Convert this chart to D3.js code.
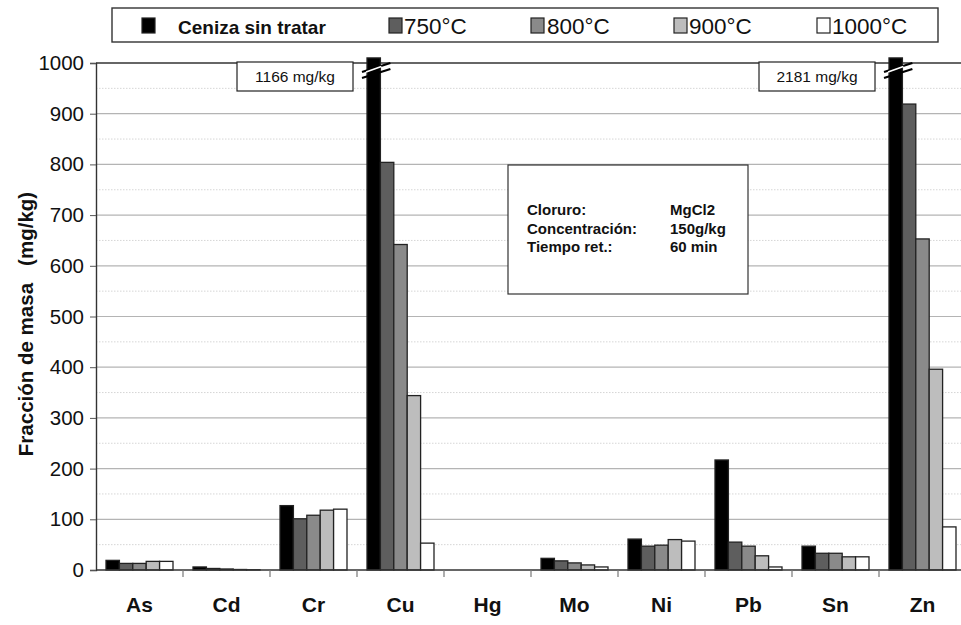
<!DOCTYPE html>
<html>
<head>
<meta charset="utf-8">
<script src="https://cdn.jsdelivr.net/npm/d3@7"></script>
<style>
  html, body { margin: 0; padding: 0; background: #fff; }
  svg { display: block; font-family: "Liberation Sans", Arial, sans-serif; }
</style>
</head>
<body>
<svg id="chart" width="961" height="625"></svg>
<script>
// Elements analysed
const elements = ["As", "Cd", "Cr", "Cu", "Hg", "Mo", "Ni", "Pb", "Sn", "Zn"];

// Series (mg/kg)
const seriesNames = ["Ceniza sin tratar", "750°C", "800°C", "900°C", "1000°C"];
const cenizaSinTratar = [19, 6, 127, 1166, 0, 23, 61, 217, 47, 2181];
const t750 = [13, 3, 101, 804, 0, 18, 47, 55, 33, 919];
const t800 = [13, 2, 108, 642, 0, 14, 49, 47, 33, 653];
const t900 = [17, 1, 118, 344, 0, 10, 60, 28, 26, 396];
const t1000 = [17, 0.5, 120, 53, 0, 6, 57, 6, 26, 85];
const seriesValues = [cenizaSinTratar, t750, t800, t900, t1000];
const seriesColors = ["#000000", "#5e5e5e", "#8a8a8a", "#bdbdbd", "#ffffff"];

// Y axis ticks
const yTicks = [0, 100, 200, 300, 400, 500, 600, 700, 800, 900, 1000];
const yMinor = [50, 150, 250, 350, 450, 550, 650, 750, 850, 950];

// Info box
const infoLabels = ["Cloruro:", "Concentración:", "Tiempo ret.:"];
const infoValues = ["MgCl2", "150g/kg", "60 min"];

const svg = d3.select("#chart");

const x = d3.scaleBand().domain(elements).range([96, 966]).paddingInner(0.23).paddingOuter(0.115);
const xs = d3.scaleBand().domain(d3.range(seriesNames.length)).range([0, x.bandwidth()]);
const y = d3.scaleLinear().domain([0, 1000]).range([570, 63]);
const yCap = 1010; // bars above the axis maximum are cut here

// Grid
svg.append("g").selectAll("line").data(yMinor).join("line")
  .attr("x1", 96).attr("x2", 961)
  .attr("y1", d => y(d)).attr("y2", d => y(d))
  .attr("stroke", "#d6d6d6").attr("stroke-width", 1).attr("stroke-dasharray", "1.5,1.5");
svg.append("g").selectAll("line").data(yTicks.filter(d => d > 0 && d < 1000)).join("line")
  .attr("x1", 96).attr("x2", 961)
  .attr("y1", d => y(d)).attr("y2", d => y(d))
  .attr("stroke", "#b4b4b4").attr("stroke-width", 1.2);
svg.append("line").attr("x1", 96).attr("x2", 961).attr("y1", y(1000)).attr("y2", y(1000))
  .attr("stroke", "#333").attr("stroke-width", 1.3);

// Bars
const groups = svg.append("g").selectAll("g").data(elements).join("g")
  .attr("transform", d => `translate(${x(d)},0)`);
groups.selectAll("rect")
  .data((el, i) => seriesValues.map((vals, s) => ({ s, v: vals[i], el })))
  .join("rect")
  .attr("x", d => xs(d.s))
  .attr("width", xs.bandwidth())
  .attr("y", d => y(Math.min(d.v, yCap)))
  .attr("height", d => y(0) - y(Math.min(d.v, yCap)))
  .attr("fill", d => seriesColors[d.s])
  .attr("stroke", "#222")
  .attr("stroke-width", d => d.v > 0 ? 1.3 : 0);

// Break marks and value boxes for truncated bars
const broken = elements.map((el, i) => ({ el, v: cenizaSinTratar[i] })).filter(d => d.v > 1000);
broken.forEach(d => {
  const x0 = x(d.el) + xs(0);
  const x1 = x0 + xs.bandwidth();
  [0, 6].forEach(off => {
    svg.append("line")
      .attr("x1", x0 - 5).attr("y1", 72 + off)
      .attr("x2", x1 + 10).attr("y2", 63 + off)
      .attr("stroke", "#000").attr("stroke-width", 2.2);
  });
  svg.append("line")
    .attr("x1", x0 - 1).attr("y1", 72)
    .attr("x2", x1 + 1).attr("y2", 66.5)
    .attr("stroke", "#fff").attr("stroke-width", 1.6);
  const label = `${d.v} mg/kg`;
  const bx1 = x0 - 14, bw = 116;
  svg.append("rect").attr("x", bx1 - bw).attr("y", 62).attr("width", bw).attr("height", 29)
    .attr("fill", "#fff").attr("stroke", "#222").attr("stroke-width", 1.2);
  svg.append("text").attr("x", bx1 - bw / 2).attr("y", 82).attr("text-anchor", "middle")
    .attr("font-size", 15.5).attr("fill", "#111").text(label);
});

// Axes
const yAxis = svg.append("g").attr("transform", "translate(96,0)")
  .call(d3.axisLeft(y).tickValues(yTicks).tickSize(6).tickPadding(6).tickFormat(d3.format("d")));
yAxis.select(".domain").attr("stroke", "#333").attr("stroke-width", 1.4);
yAxis.selectAll(".tick line").attr("stroke", "#555");
yAxis.selectAll("text").attr("font-size", 20.5).attr("fill", "#111")
  .attr("font-family", "'Liberation Sans', Arial, sans-serif");

const xAxis = svg.append("g").attr("transform", "translate(0,570)")
  .call(d3.axisBottom(x).tickSize(0).tickPadding(27));
xAxis.select(".domain").remove();
svg.append("line").attr("x1", 96).attr("x2", 961).attr("y1", 570).attr("y2", 570)
  .attr("stroke", "#333").attr("stroke-width", 1.4);
svg.append("g").selectAll("line").data(elements.slice(1)).join("line")
  .attr("x1", d => x(d) - x.step() * 0.115).attr("x2", d => x(d) - x.step() * 0.115)
  .attr("y1", 570).attr("y2", 577).attr("stroke", "#777").attr("stroke-width", 1.2);
xAxis.selectAll("text").attr("font-size", 21).attr("font-weight", "bold").attr("fill", "#111")
  .attr("font-family", "'Liberation Sans', Arial, sans-serif");

// Y axis title
svg.append("text")
  .attr("transform", "translate(33,324) rotate(-90)")
  .attr("text-anchor", "middle")
  .attr("font-size", 20.5).attr("font-weight", "bold").attr("fill", "#111")
  .style("white-space", "pre")
  .text("Fracción de masa   (mg/kg)");

// Info box
svg.append("rect").attr("x", 508).attr("y", 165).attr("width", 240).attr("height", 129)
  .attr("fill", "#fff").attr("stroke", "#333").attr("stroke-width", 1.2);
infoLabels.forEach((t, i) => {
  svg.append("text").attr("x", 527).attr("y", 215 + i * 18.5).attr("font-size", 15)
    .attr("font-weight", "bold").attr("fill", "#111").text(t);
  svg.append("text").attr("x", 670).attr("y", 215 + i * 18.5).attr("font-size", 15)
    .attr("font-weight", "bold").attr("fill", "#111").text(infoValues[i]);
});

// Legend
svg.append("rect").attr("x", 112).attr("y", 8).attr("width", 826).attr("height", 34)
  .attr("fill", "#fff").attr("stroke", "#333").attr("stroke-width", 1.4);
const legendSq = [142, 389, 531, 674, 817];
const legendTx = [178, 404, 547, 689, 832];
seriesNames.forEach((n, i) => {
  svg.append("rect").attr("x", legendSq[i]).attr("y", 18).attr("width", 13).attr("height", 15)
    .attr("fill", seriesColors[i]).attr("stroke", "#222").attr("stroke-width", 1.2);
  svg.append("text").attr("x", legendTx[i]).attr("y", 34)
    .attr("font-size", i === 0 ? 19 : 22.5).attr("font-weight", i === 0 ? "bold" : "normal")
    .attr("fill", "#111").text(n);
});
</script>
</body>
</html>
